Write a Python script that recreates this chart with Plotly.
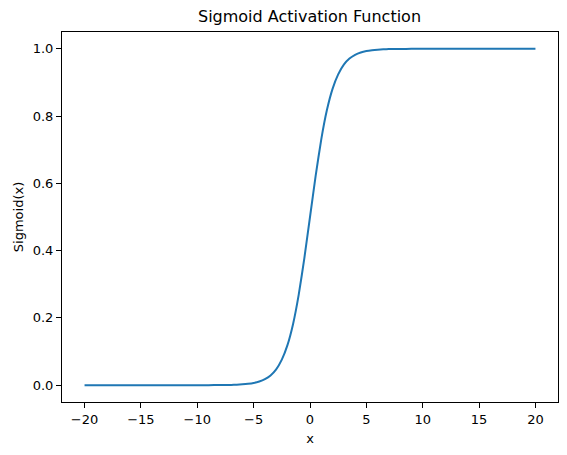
import plotly.graph_objects as go

# Values
x_vals = [-20, -12, -10, -9, -8, -7.5, -7, -6.5, -6, -5.5, -5, -4.5, -4, -3.5, -3, -2.5,
          -2, -1.5, -1, -0.5, 0, 0.5, 1, 1.5, 2, 2.5, 3, 3.5, 4, 4.5, 5, 5.5, 6, 6.5,
          7, 7.5, 8, 9, 10, 12, 20]
y_vals = [0.0, 0.00001, 0.00005, 0.0001, 0.0003, 0.0006, 0.0009, 0.0015, 0.0025, 0.0041,
          0.0067, 0.011, 0.018, 0.029, 0.047, 0.076, 0.119, 0.182, 0.269, 0.378, 0.5,
          0.622, 0.731, 0.818, 0.881, 0.924, 0.953, 0.971, 0.982, 0.989, 0.9933, 0.9959,
          0.9975, 0.9985, 0.9991, 0.9994, 0.9997, 0.9999, 0.99995, 0.99999, 1.0]
x_ticks = [-20, -15, -10, -5, 0, 5, 10, 15, 20]
y_ticks = [0.0, 0.2, 0.4, 0.6, 0.8, 1.0]

FONT = "DejaVu Sans"
W, H = 559, 447  # page body has an 8px margin in the browser

fig = go.Figure()
fig.add_trace(go.Scatter(x=x_vals, y=y_vals, mode="lines",
                         line=dict(color="#1f77b4", width=2, shape="spline", smoothing=0.5)))

axis_common = dict(showline=True, linecolor="black", linewidth=1, mirror=True,
                   ticks="outside", ticklen=5, tickwidth=1, tickcolor="black",
                   showgrid=False, zeroline=False, automargin=False,
                   tickfont=dict(family=FONT, size=13, color="black"))

fig.update_layout(
    width=W, height=H,
    margin=dict(l=54, r=9, t=24, b=53),
    plot_bgcolor="white", paper_bgcolor="white",
    showlegend=False,
    font=dict(family=FONT, color="black"),
    title=dict(text="Sigmoid Activation Function", x=301.5 / W, xanchor="center",
               y=1 - 8 / H, yanchor="middle", automargin=False,
               font=dict(family=FONT, size=16, color="black")),
    xaxis=dict(range=[-22, 22], tickvals=x_ticks,
               ticktext=[str(v).replace("-", "\u2212") for v in x_ticks],
               title=dict(text="x", font=dict(family=FONT, size=13), standoff=8),
               **axis_common),
    yaxis=dict(range=[-0.05, 1.05], tickvals=y_ticks,
               ticktext=[f"{v:.1f}" for v in y_ticks],
               title=dict(text="Sigmoid(x)", font=dict(family=FONT, size=13), standoff=6),
               **axis_common),
)

fig.write_html("out.html")
